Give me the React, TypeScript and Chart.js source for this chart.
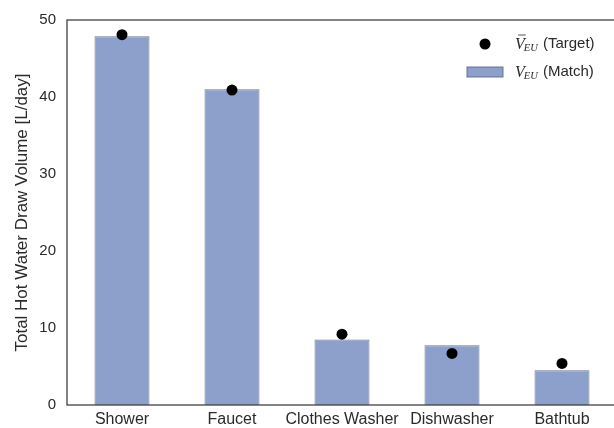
import React, { useEffect, useRef } from "react";
import { Chart, registerables } from "chart.js";
Chart.register(...registerables);

const categories = ["Shower", "Faucet", "Clothes Washer", "Dishwasher", "Bathtub"];
const matchValues = [47.9, 41.0, 8.5, 7.75, 4.5];
const targetValues = [48.1, 40.9, 9.2, 6.7, 5.4];
const yMin = 0;
const yMax = 50;
const yStep = 10;
const yTitle = "Total Hot Water Draw Volume [L/day]";
const legendTargetText = "(Target)";
const legendMatchText = "(Match)";
const legendSymbolMain = "V";
const legendSymbolSub = "EU";

const SANS = "'Liberation Sans', Arial, Helvetica, sans-serif";
const SERIF = "'Liberation Serif', 'Times New Roman', serif";
const TEXT = "#2a2a2a";
const BAR_FILL = "rgb(141,160,203)";
const BAR_EDGE = "rgba(95,105,135,0.9)";
const SPINE = "#3a3a3a";

const framePlugin = {
  id: "frame",
  afterDatasetsDraw(chart: any) {
    const { ctx, chartArea } = chart;
    ctx.save();
    ctx.strokeStyle = SPINE;
    ctx.lineWidth = 1.25;
    ctx.strokeRect(chartArea.left, chartArea.top, chartArea.right - chartArea.left, chartArea.bottom - chartArea.top);
    ctx.restore();
  },
};

function drawSymbol(ctx: CanvasRenderingContext2D, x: number, y: number, withBar: boolean) {
  ctx.font = `italic 16px ${SERIF}`;
  ctx.textBaseline = "alphabetic";
  ctx.textAlign = "left";
  ctx.fillStyle = TEXT;
  const base = y + 5;
  ctx.fillText(legendSymbolMain, x, base);
  const vw = ctx.measureText(legendSymbolMain).width;
  if (withBar) {
    ctx.save();
    ctx.strokeStyle = TEXT;
    ctx.lineWidth = 0.8;
    ctx.beginPath();
    ctx.moveTo(x + 3, base - 14);
    ctx.lineTo(x + vw + 1, base - 14);
    ctx.stroke();
    ctx.restore();
  }
  ctx.font = `italic 10.5px ${SERIF}`;
  ctx.fillText(legendSymbolSub, x + vw - 1, base + 2);
  const sw = ctx.measureText(legendSymbolSub).width;
  return x + vw - 1 + sw;
}

const legendPlugin = {
  id: "customLegend",
  afterDraw(chart: any) {
    const { ctx, chartArea } = chart;
    ctx.save();
    const row1 = chartArea.top + 24;
    const row2 = chartArea.top + 52;
    ctx.fillStyle = "#000";
    ctx.beginPath();
    ctx.arc(485, row1, 5.5, 0, Math.PI * 2);
    ctx.fill();
    ctx.fillStyle = BAR_FILL;
    ctx.fillRect(467, row2 - 5, 36, 10);
    ctx.strokeStyle = BAR_EDGE;
    ctx.lineWidth = 1;
    ctx.strokeRect(467, row2 - 5, 36, 10);
    let end = drawSymbol(ctx, 515, row1, true);
    ctx.font = `15px ${SANS}`;
    ctx.textBaseline = "middle";
    ctx.fillStyle = TEXT;
    ctx.fillText(" " + legendTargetText, end + 1, row1);
    end = drawSymbol(ctx, 515, row2, false);
    ctx.font = `15px ${SANS}`;
    ctx.textBaseline = "middle";
    ctx.fillStyle = TEXT;
    ctx.fillText(" " + legendMatchText, end + 1, row2);
    ctx.restore();
  },
};

export default function App() {
  const ref = useRef<HTMLCanvasElement>(null);
  useEffect(() => {
    if (!ref.current) return;
    const chart = new Chart(ref.current, {
      type: "bar",
      data: {
        labels: categories,
        datasets: [
          {
            type: "line",
            label: "Target",
            data: targetValues,
            showLine: false,
            pointRadius: 5.5,
            pointBackgroundColor: "#000",
            pointBorderColor: "#000",
            pointBorderWidth: 0,
            order: 0,
          } as any,
          {
            type: "bar",
            label: "Match",
            data: matchValues,
            backgroundColor: BAR_FILL,
            borderColor: BAR_EDGE,
            borderWidth: 1,
            categoryPercentage: 1,
            barPercentage: 0.5,
            order: 1,
          },
        ],
      },
      options: {
        responsive: false,
        animation: false,
        layout: { padding: { top: 20, right: 23, left: 0, bottom: 0 } },
        plugins: { legend: { display: false }, tooltip: { enabled: false } },
        scales: {
          x: {
            offset: true,
            grid: { display: false, drawTicks: false },
            border: { display: false },
            ticks: { color: TEXT, font: { family: SANS, size: 16 }, padding: 5, maxRotation: 0, autoSkip: false },
            afterFit(scale: any) {
              scale.height = 23;
            },
          },
          y: {
            min: yMin,
            max: yMax,
            grid: { display: false, drawTicks: false },
            border: { display: false },
            ticks: { stepSize: yStep, color: TEXT, font: { family: SANS, size: 15 }, padding: 11 },
            title: { display: true, text: yTitle, color: TEXT, font: { family: SANS, size: 17 }, padding: { top: 12, bottom: 0 } },
            afterFit(scale: any) {
              scale.width = 67;
            },
          },
        },
      },
      plugins: [framePlugin, legendPlugin],
    });
    return () => chart.destroy();
  }, []);
  return (
    <div style={{ position: "fixed", left: 0, top: 0, width: 614, height: 428, overflow: "hidden", background: "#fff" }}>
      <canvas ref={ref} width={640} height={428} style={{ display: "block" }} />
    </div>
  );
}
